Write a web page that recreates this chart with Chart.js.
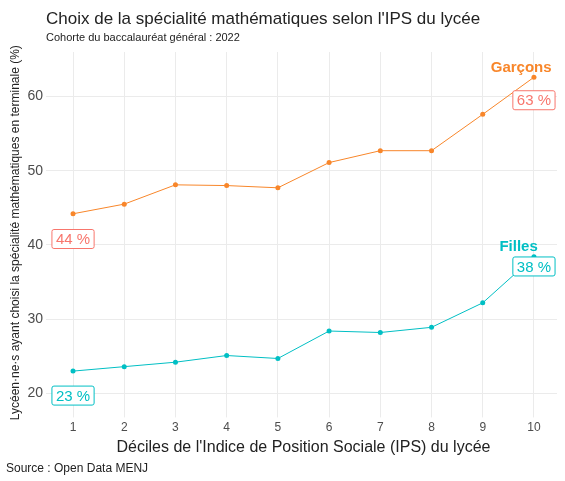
<!DOCTYPE html><html><head><meta charset="utf-8">
<script src="https://cdn.jsdelivr.net/npm/chart.js@4"></script>
<style>body{margin:0;background:#fff}#w{width:565px;height:481px;position:relative}</style></head><body>
<div id="w"><canvas id="c"></canvas></div>
<script>
const deciles=[1,2,3,4,5,6,7,8,9,10];
const garcons=[44.2,45.5,48.1,48.0,47.7,51.1,52.7,52.7,57.6,62.6];
const filles=[23.0,23.6,24.2,25.1,24.7,28.4,28.2,28.9,32.2,38.4];
const yTicks=[20,30,40,50,60];
const F='"Liberation Sans", Arial, sans-serif';
const labelPlugin={id:'lbl',afterDatasetsDraw(ch){
 const c=ch.ctx,x=ch.scales.x,y=ch.scales.y;
 function box(t,dx,vy,col){c.font='15px '+F;const w=c.measureText(t).width+8,h=19;const px=x.getPixelForValue(dx),py=y.getPixelForValue(vy);
  c.fillStyle='#fff';c.strokeStyle=col;c.lineWidth=1;c.beginPath();c.roundRect(px-w/2,py-h/2,w,h,2);c.fill();c.stroke();c.fillStyle=col;c.textAlign='center';c.textBaseline='middle';c.fillText(t,px,py+1);}
 function txt(t,dx,vy,col){c.font='bold 15px '+F;c.fillStyle=col;c.textAlign='center';c.textBaseline='middle';c.fillText(t,x.getPixelForValue(dx),y.getPixelForValue(vy));}
 box(Math.round(garcons[0])+' %',1,40.8,'#F8766D');
 box(Math.round(garcons[9])+' %',10,59.5,'#F8766D');
 box(Math.round(filles[0])+' %',1,19.7,'#00BFC4');
 box(Math.round(filles[9])+' %',10,37.1,'#00BFC4');
 txt('Garçons',9.75,63.8,'#F8862A');txt('Filles',9.7,39.7,'#00BFC4');
}};
new Chart(document.getElementById('c'),{type:'line',
 data:{datasets:[
  {data:deciles.map((d,i)=>({x:d,y:garcons[i]})),borderColor:'#F8862A',backgroundColor:'#F8862A',borderWidth:1,pointRadius:2.5,pointBorderWidth:0},
  {data:deciles.map((d,i)=>({x:d,y:filles[i]})),borderColor:'#00BFC4',backgroundColor:'#00BFC4',borderWidth:1,pointRadius:2.5,pointBorderWidth:0}]},
 options:{responsive:true,maintainAspectRatio:false,animation:false,
  layout:{padding:{left:4,right:8,top:52,bottom:20}},
  plugins:{legend:{display:false},tooltip:{enabled:false}},
  scales:{
   x:{type:'linear',min:0.55,max:10.45,border:{display:false},grid:{color:'#ebebeb',tickLength:4},
    afterBuildTicks(a){a.ticks=deciles.map(v=>({value:v}));},
    ticks:{color:'#4d4d4d',font:{family:F,size:12},autoSkip:false},
    title:{display:true,text:"Déciles de l'Indice de Position Sociale (IPS) du lycée",color:'#222',font:{family:F,size:16},padding:{top:0}}},
   y:{min:17.3,max:66,border:{display:false},grid:{color:'#ebebeb',tickLength:4},
    afterBuildTicks(a){a.ticks=yTicks.map(v=>({value:v}));},
    ticks:{color:'#4d4d4d',font:{family:F,size:14}},
    title:{display:true,text:'Lycéen·ne·s ayant choisi la spécialité mathématiques en terminale (%)',color:'#222',font:{family:F,size:12},padding:{bottom:2}}}}},
 plugins:[labelPlugin,{id:'src',afterDraw(ch){const c=ch.ctx;c.textAlign='left';c.textBaseline='alphabetic';c.fillStyle='#222';
  c.font='17px '+F;c.fillText("Choix de la spécialité mathématiques selon l'IPS du lycée",46,24);
  c.font='11px '+F;c.fillText('Cohorte du baccalauréat général : 2022',46,41);
  c.font='12px '+F;c.fillText('Source : Open Data MENJ',6,472);}}]
});
</script></body></html>
